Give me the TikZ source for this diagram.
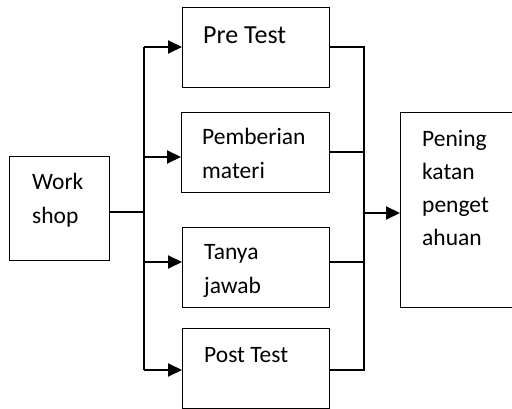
\documentclass[tikz,border=0pt]{standalone}
\usepackage{fontspec}
\setmainfont{Carlito}
\usetikzlibrary{arrows.meta}
\begin{document}
\begin{tikzpicture}[x=1pt,y=-1pt,
  box/.style={draw, line width=1.3pt, rectangle, inner sep=0pt, anchor=north west},
  lbl/.style={anchor=base west, inner sep=0pt, align=left, font=\fontsize{23.5}{33.3}\selectfont},
  thick conn/.style={line width=2pt},
  thin conn/.style={line width=1.3pt},
  tip/.style={-{Triangle[length=14pt,width=13pt]}}]
\useasboundingbox (0,0) rectangle (512,409);
\clip (0,0) rectangle (512,409);
% boxes
\node[box, minimum width=100pt, minimum height=104pt] (work) at (9,156) {};
\node[box, minimum width=147pt, minimum height=80pt] (pre) at (182,7) {};
\node[box, minimum width=148pt, minimum height=80pt] (pem) at (181,112) {};
\node[box, minimum width=147pt, minimum height=80pt] (tan) at (182,227) {};
\node[box, minimum width=147pt, minimum height=80pt] (post) at (182,328) {};
\node[box, minimum width=130pt, minimum height=195pt] (pen) at (400,112) {};
% labels (base anchor = baseline of last line)
\node[lbl] (tw) at (32,223.3) {Work\\shop};
\node[lbl, font=\fontsize{26}{33}\selectfont] (tpre) at (203,44) {Pre Test};
\node[lbl] (tpem) at (202,178.3) {Pemberian\\materi};
\node[lbl] (ttan) at (204,293.3) {Tanya\\jawab};
\node[lbl] (tpost) at (204,362) {Post Test};
\node[lbl] (tpen) at (422,246) {Pening\\katan\\penget\\ahuan};
% left bus
\coordinate (lb0) at (144,212);
\coordinate (lb1) at (144,47);
\coordinate (lb2) at (144,157);
\coordinate (lb3) at (144,262);
\coordinate (lb4) at (144,370);
\draw[thin conn] (work.east |- lb0) -- (lb0);
\draw[thick conn] (lb1) -- (lb4);
\draw[thick conn, tip] (lb1) -- (pre.west |- lb1);
\draw[thick conn, tip] (lb2) -- (pem.west |- lb2);
\draw[thick conn, tip] (lb3) -- (tan.west |- lb3);
\draw[thick conn, tip] (lb4) -- (post.west |- lb4);
% right bus
\coordinate (rb1) at (364,47);
\coordinate (rb2) at (364,152);
\coordinate (rb3) at (364,262);
\coordinate (rb4) at (364,370);
\coordinate (rb0) at (364,213);
\draw[thin conn] (pre.east |- rb1) -- (rb1) -- (rb4) -- (post.east |- rb4);
\draw[thin conn] (pem.east |- rb2) -- (rb2);
\draw[thin conn] (tan.east |- rb3) -- (rb3);
\draw[thick conn, tip] (rb0) -- (pen.west |- rb0);
\end{tikzpicture}
\end{document}
